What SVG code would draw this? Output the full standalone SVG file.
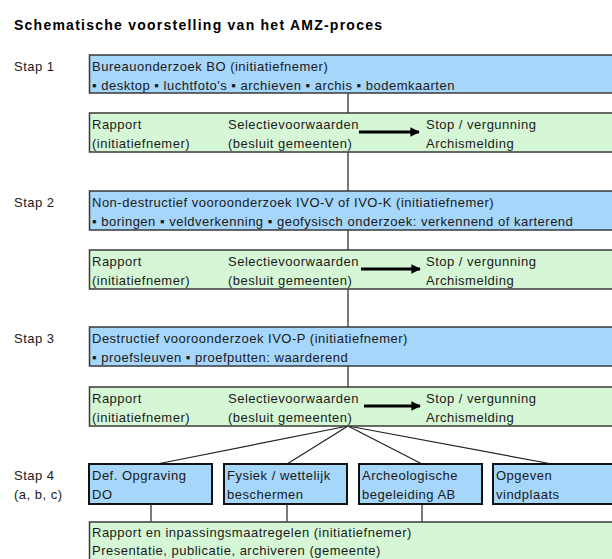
<svg xmlns="http://www.w3.org/2000/svg" width="612" height="559" viewBox="0 0 612 559">
<defs>
<style>
text{font-family:"Liberation Sans",Arial,"DejaVu Sans",sans-serif;font-size:13px;fill:#1a1a1a;letter-spacing:0.5px}
.title{font-weight:bold;font-size:14px;fill:#000;letter-spacing:0}
.blue{fill:#A6D6FA;stroke:#3a3a3a;stroke-width:1.5}
.green{fill:#D6F7D6;stroke:#3a3a3a;stroke-width:1.5}
.sub{fill:#A6D6FA;stroke:#111;stroke-width:2}
.conn line{stroke:#222;stroke-width:1.2}
.arrow{stroke:#000;stroke-width:3}
</style>
<marker id="ah" viewBox="0 0 10 10" refX="9" refY="5" markerWidth="3.6" markerHeight="3.2" orient="auto" markerUnits="strokeWidth">
<path d="M0,0 L10,5 L0,10 z" fill="#000"/>
</marker>
</defs>
<rect width="612" height="559" fill="#fff"/>
<text class="title" x="14" y="30" textLength="368" lengthAdjust="spacing">Schematische voorstelling van het AMZ-proces</text>

<g id="labels">
<text x="14" y="71">Stap 1</text>
<text x="14" y="207">Stap 2</text>
<text x="14" y="343">Stap 3</text>
<text x="14" y="480">Stap 4</text>
<text x="14" y="499">(a, b, c)</text>
</g>

<g id="connectors" class="conn">
<line x1="348" y1="93" x2="348" y2="113"/>
<line x1="348" y1="152" x2="348" y2="191"/>
<line x1="348" y1="230" x2="348" y2="250"/>
<line x1="348" y1="289" x2="348" y2="327"/>
<line x1="348" y1="366" x2="348" y2="387"/>
<line x1="348" y1="426" x2="157" y2="464"/>
<line x1="348" y1="426" x2="287" y2="464"/>
<line x1="348" y1="426" x2="422" y2="464"/>
<line x1="348" y1="426" x2="552" y2="464"/>
<line x1="151" y1="504" x2="151" y2="523"/>
<line x1="287" y1="504" x2="287" y2="523"/>
<line x1="422" y1="504" x2="422" y2="523"/>
</g>

<g id="bo">
<rect class="blue" x="89.5" y="55" width="540" height="38"/>
<text x="92" y="71">Bureauonderzoek BO (initiatiefnemer)</text>
<text x="92" y="90">▪ desktop  ▪ luchtfoto's  ▪ archieven  ▪ archis  ▪ bodemkaarten</text>
</g>
<g id="sel1">
<rect class="green" x="89.5" y="113" width="540" height="39"/>
<text x="92" y="129">Rapport</text>
<text x="92" y="148">(initiatiefnemer)</text>
<text x="228" y="129">Selectievoorwaarden</text>
<text x="228" y="148">(besluit gemeenten)</text>
<line class="arrow" x1="359" y1="132" x2="419" y2="132" marker-end="url(#ah)"/>
<text x="426" y="129">Stop / vergunning</text>
<text x="426" y="148">Archismelding</text>
</g>

<g id="ivo-vk">
<rect class="blue" x="89.5" y="191" width="540" height="39"/>
<text x="92" y="207">Non-destructief vooroonderzoek IVO-V of IVO-K (initiatiefnemer)</text>
<text x="92" y="226">▪ boringen  ▪ veldverkenning  ▪ geofysisch onderzoek: verkennend of karterend</text>
</g>
<g id="sel2">
<rect class="green" x="89.5" y="250" width="540" height="39"/>
<text x="92" y="266">Rapport</text>
<text x="92" y="285">(initiatiefnemer)</text>
<text x="228" y="266">Selectievoorwaarden</text>
<text x="228" y="285">(besluit gemeenten)</text>
<line class="arrow" x1="361" y1="269" x2="420" y2="269" marker-end="url(#ah)"/>
<text x="426" y="266">Stop / vergunning</text>
<text x="426" y="285">Archismelding</text>
</g>

<g id="ivo-p">
<rect class="blue" x="89.5" y="327" width="540" height="39"/>
<text x="92" y="343">Destructief vooroonderzoek IVO-P (initiatiefnemer)</text>
<text x="92" y="362">▪ proefsleuven  ▪ proefputten: waarderend</text>
</g>
<g id="sel3">
<rect class="green" x="89.5" y="387" width="540" height="39"/>
<text x="92" y="403">Rapport</text>
<text x="92" y="422">(initiatiefnemer)</text>
<text x="228" y="403">Selectievoorwaarden</text>
<text x="228" y="422">(besluit gemeenten)</text>
<line class="arrow" x1="364" y1="406" x2="420" y2="406" marker-end="url(#ah)"/>
<text x="426" y="403">Stop / vergunning</text>
<text x="426" y="422">Archismelding</text>
</g>

<g id="do">
<rect class="sub" x="89" y="464" width="123" height="40"/>
<text x="92" y="480">Def. Opgraving</text>
<text x="92" y="499">DO</text>
</g>
<g id="fysiek">
<rect class="sub" x="224" y="464" width="123" height="40"/>
<text x="227" y="480">Fysiek / wettelijk</text>
<text x="227" y="499">beschermen</text>
</g>
<g id="ab">
<rect class="sub" x="359" y="464" width="123" height="40"/>
<text x="362" y="480">Archeologische</text>
<text x="362" y="499">begeleiding AB</text>
</g>
<g id="vindplaats">
<rect class="sub" x="493" y="464" width="140" height="40"/>
<text x="496" y="480">Opgeven</text>
<text x="496" y="499">vindplaats</text>
</g>

<g id="rapport-final">
<rect class="green" x="89.5" y="522" width="540" height="50"/>
<text x="92" y="537">Rapport en inpassingsmaatregelen (initiatiefnemer)</text>
<text x="92" y="555">Presentatie, publicatie, archiveren (gemeente)</text>
</g>
</svg>
